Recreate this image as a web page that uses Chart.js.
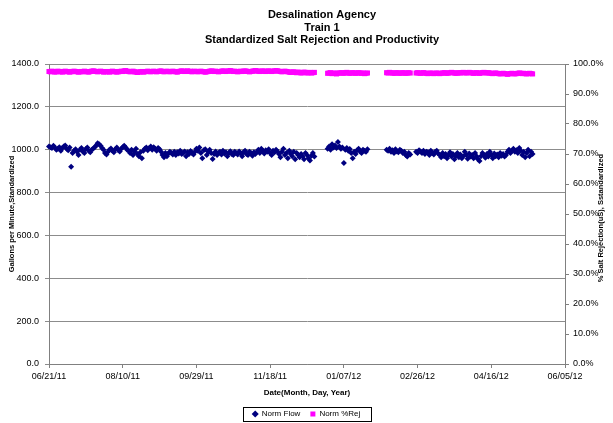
<!DOCTYPE html>
<html>
<head>
<meta charset="utf-8">
<script src="https://cdn.jsdelivr.net/npm/chart.js@4.4.0/dist/chart.umd.min.js"></script>
<style>
  body { margin: 0; background: #fff; }
  #MiGrafico { display: block; }
</style>
</head>
<body>
<canvas id="MiGrafico" width="613" height="423"></canvas>
<script>
// days counted from 06/21/11, one reading per day, each run starts at startDays[k]
const tickLabels = ["06/21/11", "08/10/11", "09/29/11", "11/18/11", "01/07/12", "02/26/12", "04/16/12", "06/05/12"];
const startDays = [0, 189, 229, 249];

const flowRuns = [
  [1015, 1012, 1008, 1018, 1010, 1000, 1005, 1012, 995, 1008, 1015,
   1020, 1005, 998, 1010, 920, 985, 995, 1002, 990,
   975, 1000, 1008, 992, 985, 1003, 1010, 995, 988, 1000, 1006, 1012, 1020,
   1030, 1025, 1018, 1008, 1000,
   985, 978, 990, 1000, 1006, 995, 988, 1002, 1010, 998, 992, 1005,
   1012, 1018, 1010, 1000, 995,
   985, 1000, 975, 990, 1005, 980, 970, 988, 960, 995,
   1005, 1010, 998, 1008, 1015, 1000, 1012, 1005, 995, 1008, 1002, 990,
   975, 965, 985, 970, 982, 990,
   985, 978, 990, 975, 988, 982, 995, 980, 985, 992, 970, 988, 980, 994, 985, 978, 990,
   1005, 995, 1010, 985, 960, 998, 1002, 975, 990, 1000, 985, 957,
   980, 992, 975, 985, 990, 978, 995, 982, 988, 970, 985, 993, 980, 975, 990, 984, 978, 992, 985, 970,
   988, 995, 980, 975, 990, 985, 972, 988, 980,
   990, 1000, 985, 1005, 995, 982, 998, 990, 1002, 985, 975, 995, 988, 1000, 992, 980,
   965, 990, 1005, 975, 985, 960, 995, 980, 970, 990, 955, 985, 975, 965,
   980, 970, 955, 985, 975, 960, 950, 972, 985, 968],
  [1005, 1015, 1000, 1025, 1010, 1020, 1008, 1036, 1015, 1005,
   1010, 938, 1000, 1008, 995, 1003, 985, 960, 990, 980,
   998, 1005, 992, 985, 1000, 995, 990, 1002],
  [1000, 995, 1005, 990, 998, 985, 1002, 992, 988, 1000, 995, 985, 990, 975, 968, 985, 978],
  [990, 985, 998, 992, 985, 995, 980, 990, 988, 975, 995, 985, 978, 990, 995, 982,
   975, 965, 985, 970, 980, 960, 975, 988, 968, 980, 955, 972, 985, 965, 978, 960, 970, 990, 975, 958,
   982, 968, 975, 960, 985, 970, 955,
   947,
   970, 985, 975, 962, 980, 968, 990, 975, 960, 982, 970, 978, 965, 985, 972, 980, 968, 975,
   990, 1000, 985, 995, 1005, 990, 998, 985, 1008, 995,
   975, 990, 965, 985, 1000, 970, 990, 980]
];

const rejRuns = [
  [97.5, 97.4, 97.6, 97.5, 97.3, 97.4, 97.6, 97.5, 97.4, 97.3,
   97.5, 97.6, 97.4, 97.5, 97.3, 97.4, 97.5, 97.6, 97.5, 97.4,
   97.3, 97.4, 97.5, 97.4, 97.6, 97.5, 97.4, 97.3, 97.5, 97.6,
   97.7, 97.6, 97.5, 97.4, 97.5, 97.6, 97.5, 97.3, 97.4, 97.5,
   97.4, 97.3, 97.5, 97.6, 97.4, 97.5, 97.3, 97.4, 97.5, 97.6,
   97.5, 97.7, 97.8, 97.6, 97.5, 97.4, 97.5, 97.6, 97.4, 97.3,
   97.2, 97.3, 97.4, 97.5, 97.3, 97.4, 97.5, 97.6, 97.5, 97.4,
   97.5, 97.6, 97.5, 97.4, 97.5, 97.6, 97.7, 97.5, 97.4, 97.5,
   97.6, 97.5, 97.4, 97.5, 97.6, 97.5, 97.4, 97.3, 97.5, 97.6,
   97.7, 97.6, 97.5, 97.6, 97.7, 97.5, 97.6, 97.4, 97.5, 97.6,
   97.5, 97.4, 97.5, 97.6, 97.5, 97.4, 97.3, 97.4, 97.5, 97.6,
   97.7, 97.6, 97.5, 97.6, 97.5, 97.4, 97.5, 97.6, 97.7, 97.6,
   97.5, 97.6, 97.7, 97.8, 97.6, 97.5, 97.6, 97.5, 97.4, 97.5,
   97.6, 97.5, 97.6, 97.7, 97.6, 97.5, 97.4, 97.5, 97.6, 97.7,
   97.8, 97.7, 97.6, 97.5, 97.6, 97.7, 97.6, 97.5, 97.6, 97.7,
   97.6, 97.5, 97.6, 97.7, 97.8, 97.7, 97.6, 97.5, 97.4, 97.5,
   97.6, 97.5, 97.4, 97.3, 97.2, 97.3, 97.4, 97.2, 97.1, 97.3,
   97.2, 97.0, 97.1, 97.3, 97.2, 97.0, 97.1, 97.2, 97.0, 97.1,
   97.2],
  [96.9, 97.0, 97.1, 96.8, 96.9, 97.0, 96.7, 96.9, 97.0, 97.1,
   97.0, 96.9, 97.1, 97.2, 97.0, 96.9, 97.0, 97.1, 97.0, 96.9,
   97.0, 97.1, 97.0, 96.9, 97.0, 96.8, 96.9, 97.0],
  [97.1, 97.0, 97.2, 97.1, 97.0, 96.9, 97.0, 97.1, 97.0, 96.9, 97.0, 97.1, 97.0, 96.9, 97.0, 97.1, 97.0],
  [97.0, 97.1, 97.0, 96.9, 97.0, 97.1, 97.0, 96.9, 96.8, 96.9,
   97.0, 96.9, 96.8, 96.9, 97.0, 96.9, 96.8, 96.9, 97.0, 97.1,
   97.0, 96.9, 97.0, 97.1, 97.2, 97.1, 97.0, 96.9, 97.0, 97.1,
   97.0, 97.1, 97.2, 97.1, 97.0, 97.1, 97.2, 97.1, 97.0, 96.9,
   97.0, 97.1, 97.0, 96.9, 97.0, 97.1, 97.2, 97.1, 97.0, 97.1,
   97.0, 96.9, 96.8, 96.9, 97.0, 96.9, 96.8, 96.7, 96.8, 96.9,
   96.8, 96.7, 96.6, 96.7, 96.8, 96.9, 96.8, 96.7, 96.8, 96.9,
   97.0, 96.9, 96.8, 96.9, 96.8, 96.7, 96.8, 96.9, 96.8, 96.7]
];

const titleLines = ["Desalination Agency", "Train 1", "Standardized Salt Rejection and Productivity"];
const rightTitle = "% Salt Rejection(uS), Sstandardized";

function toPoints(runs) {
  let pts = [];
  runs.forEach((run, k) => {
    run.forEach((v, i) => pts.push({ x: startDays[k] + i, y: v }));
  });
  return pts;
}

const FONT = '"Liberation Sans", Arial, sans-serif';
const axisGray = '#808080';

// Excel-style title, right axis title (reads upward) and a frame round the legend
const extraText = {
  id: 'extraText',
  afterDraw(chart) {
    const ctx = chart.ctx;
    ctx.save();
    ctx.fillStyle = '#000';
    ctx.textAlign = 'center';
    ctx.textBaseline = 'middle';
    ctx.font = 'bold 11px ' + FONT;
    titleLines.forEach((t, i) => ctx.fillText(t, 322, 15 + i * 12.6));

    ctx.font = 'bold 7.5px ' + FONT;
    ctx.translate(601, 218);
    ctx.rotate(-Math.PI / 2);
    ctx.fillText(rightTitle, 0, 0);
    ctx.restore();

    const boxes = chart.legend.legendHitBoxes;
    if (boxes && boxes.length) {
      let l = Math.min(...boxes.map(b => b.left));
      let r = Math.max(...boxes.map(b => b.left + b.width));
      let t = Math.min(...boxes.map(b => b.top));
      let b2 = Math.max(...boxes.map(b => b.top + b.height));
      ctx.save();
      ctx.strokeStyle = '#000';
      ctx.lineWidth = 1;
      ctx.strokeRect(Math.round(l - 10) + 0.5, Math.round(t - 3) + 0.5, Math.round(r - l + 20), Math.round(b2 - t + 6));
      ctx.restore();
    }
  }
};

let miGrafico = document.getElementById("MiGrafico").getContext("2d");

var chart = new Chart(miGrafico, {
  type: 'scatter',
  data: {
    datasets: [
      {
        label: "Norm Flow",
        data: toPoints(flowRuns),
        yAxisID: 'y',
        pointStyle: 'rectRot',
        pointRadius: 3,
        borderWidth: 0,
        backgroundColor: '#000080',
        borderColor: '#000080',
        clip: false
      },
      {
        label: "Norm %Rej",
        data: toPoints(rejRuns),
        yAxisID: 'y1',
        pointStyle: 'rect',
        pointRadius: 3.6,
        borderWidth: 0,
        backgroundColor: '#FF00FF',
        borderColor: '#FF00FF',
        clip: false
      }
    ]
  },
  options: {
    responsive: false,
    animation: false,
    layout: { padding: { top: 64, left: 0, right: 0, bottom: -5 } },
    plugins: {
      title: { display: false },
      tooltip: { enabled: false },
      legend: {
        position: 'bottom',
        labels: {
          usePointStyle: true,
          boxWidth: 5,
          boxHeight: 5,
          padding: 10,
          color: '#000',
          font: { family: FONT, size: 8 }
        }
      }
    },
    scales: {
      x: {
        type: 'linear',
        min: 0,
        max: 350,
        afterFit: s => { s.height = 36; },
        ticks: {
          stepSize: 50,
          autoSkip: false,
          maxRotation: 0,
          padding: 3,
          color: '#000',
          font: { family: FONT, size: 9 },
          callback: v => tickLabels[Math.round(v / 50)]
        },
        grid: { drawOnChartArea: false, tickLength: 4, color: axisGray },
        border: { color: axisGray },
        title: {
          display: true,
          text: "Date(Month, Day, Year)",
          color: '#000',
          font: { family: FONT, size: 8, weight: 'bold' },
          padding: { top: 0, bottom: 2 }
        }
      },
      y: {
        position: 'left',
        min: 0,
        max: 1400,
        afterFit: s => { s.width = 49; },
        ticks: {
          stepSize: 200,
          padding: 6,
          color: '#000',
          font: { family: FONT, size: 9 },
          callback: v => v.toFixed(1)
        },
        grid: { color: '#8c8c8c', tickLength: 4 },
        border: { color: axisGray },
        title: {
          display: true,
          text: "Gallons per Minute,Standardized",
          color: '#000',
          font: { family: FONT, size: 7.5, weight: 'bold' },
          padding: { top: 7, bottom: 0 }
        }
      },
      y1: {
        position: 'right',
        min: 0,
        max: 100,
        afterFit: s => { s.width = 48; },
        ticks: {
          stepSize: 10,
          padding: 4,
          color: '#000',
          font: { family: FONT, size: 9 },
          callback: v => v.toFixed(1) + '%'
        },
        grid: { drawOnChartArea: false, tickLength: 4, color: axisGray },
        border: { color: axisGray }
      }
    }
  },
  plugins: [extraText]
});
</script>
</body>
</html>
